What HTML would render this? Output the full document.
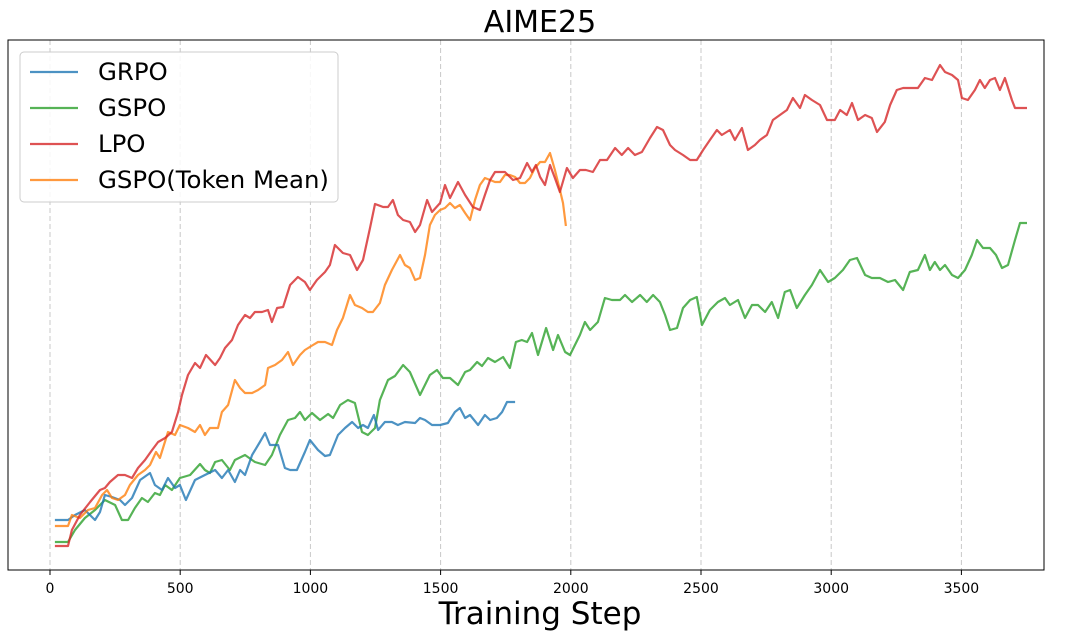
<!DOCTYPE html>
<html><head><meta charset="utf-8"><style>
body{margin:0;background:#fff;}
svg{display:block;font-family:"DejaVu Sans","Liberation Sans",sans-serif;}
</style></head><body>
<svg id="chart" width="1080" height="636" viewBox="0 0 1080 636" xmlns="http://www.w3.org/2000/svg">
<rect width="1080" height="636" fill="#fff"/>
<text x="540" y="32" font-size="30" text-anchor="middle">AIME25</text>
<g id="grid"></g>
<g id="series"></g>
<rect x="8" y="40" width="1036" height="530" fill="none" stroke="#000" stroke-width="1"/>
<g id="ticks"></g>
<text x="540" y="624" font-size="31" text-anchor="middle">Training Step</text>
<g id="legend">
<rect x="20" y="52" width="318" height="150" rx="4" fill="#fff" fill-opacity="0.85" stroke="#ccc"/>
</g>
</svg>
<script>
const xTicks=[0,500,1000,1500,2000,2500,3000,3500];
const names=["GRPO","GSPO","LPO","GSPO(Token Mean)"];
const colors=["#1f77b4","#2ca02c","#d62728","#ff7f0e"];
const grpoSteps=[19,69,96,134,173,192,211,238,269,288,315,346,384,403,430,453,480,499,522,557,595,634,660,684,710,730,749,776,806,826,845,876,902,922,948,979,998,1029,1056,1075,1106,1133,1160,1183,1202,1221,1244,1260,1286,1313,1336,1363,1402,1421,1440,1467,1498,1528,1555,1574,1594,1613,1644,1670,1690,1716,1736,1755,1786];
const grpoVals=[5.0,5.0,5.5,6.0,5.0,5.8,7.5,7.3,7.0,6.5,7.2,9.0,9.7,8.5,8.0,9.2,8.2,8.5,7.0,9.0,9.5,10.0,9.2,10.0,8.8,10.0,9.5,11.5,12.8,13.7,12.5,12.5,10.2,10.0,10.0,11.8,13.0,12.0,11.4,11.5,13.5,14.2,14.8,14.2,14.5,14.2,15.5,14.0,14.8,14.8,14.5,14.8,14.7,15.2,15.0,14.5,14.5,14.7,15.8,16.2,15.2,15.5,14.5,15.5,15.0,15.2,15.8,16.8,16.8];
const gspoSteps=[19,69,96,134,173,211,250,276,300,326,353,376,403,422,442,468,499,538,576,595,614,634,660,691,710,749,787,826,852,883,914,941,960,979,1006,1037,1068,1087,1114,1144,1171,1198,1221,1248,1267,1298,1325,1356,1382,1421,1459,1486,1509,1536,1567,1594,1613,1640,1659,1682,1709,1740,1766,1789,1812,1832,1851,1874,1905,1932,1951,1978,1997,2035,2054,2074,2104,2131,2158,2189,2208,2235,2266,2292,2316,2342,2362,2381,2408,2431,2458,2484,2504,2534,2565,2592,2611,2642,2669,2696,2719,2746,2772,2796,2822,2842,2868,2899,2926,2957,2988,3014,3045,3072,3099,3130,3156,3187,3218,3245,3276,3302,3333,3360,3379,3398,3418,3437,3464,3487,3514,3540,3560,3583,3610,3633,3656,3679,3706,3725,3752];
const gspoVals=[2.8,2.8,4.0,5.2,6.0,7.0,6.5,5.0,5.0,6.2,7.2,6.8,7.7,7.5,8.5,8.0,9.2,9.5,10.6,10.0,9.7,10.8,11.0,10.0,11.0,11.5,10.8,10.5,11.5,13.5,15.0,15.2,15.8,15.0,15.7,15.0,15.6,15.2,16.5,17.0,16.7,13.8,13.5,14.2,17.0,19.0,19.4,20.5,19.8,17.5,19.5,20.0,19.2,19.2,18.5,19.8,20.0,20.8,20.4,21.2,20.8,21.3,20.2,22.8,23.0,22.8,23.7,21.5,24.2,22.0,23.5,21.8,21.5,23.5,24.8,24.0,24.8,27.2,27.0,27.0,27.5,26.8,27.5,26.8,27.5,26.8,25.5,24.0,24.2,26.2,27.0,27.3,24.5,26.0,26.8,27.2,26.5,27.0,25.2,26.5,26.5,25.8,26.8,25.2,27.8,28.0,26.2,27.5,28.5,30.0,28.8,29.2,30.0,31.0,31.2,29.5,29.2,29.2,28.8,29.0,28.0,29.8,30.0,31.5,30.0,30.8,30.0,30.5,29.5,29.2,30.0,31.5,33.0,32.2,32.2,31.5,30.2,30.5,33.0,34.7,34.7];
const lpoSteps=[19,69,84,115,154,192,211,230,261,288,315,338,365,392,415,442,468,492,507,530,557,576,599,634,653,672,699,722,749,768,787,814,837,852,872,895,922,952,979,998,1025,1056,1075,1094,1125,1152,1179,1202,1229,1248,1279,1298,1317,1336,1356,1382,1402,1421,1448,1467,1498,1517,1536,1567,1594,1624,1651,1670,1690,1709,1747,1778,1805,1832,1851,1866,1882,1901,1920,1939,1958,1985,2008,2035,2058,2085,2112,2139,2170,2196,2220,2246,2273,2304,2331,2354,2381,2400,2431,2458,2484,2508,2534,2561,2580,2611,2630,2657,2680,2707,2726,2753,2776,2803,2830,2853,2880,2899,2926,2957,2984,3014,3034,3060,3080,3103,3130,3156,3176,3206,3226,3252,3276,3302,3333,3360,3387,3418,3437,3464,3487,3502,3525,3552,3571,3590,3610,3629,3648,3667,3694,3706,3752];
const lpoVals=[2.4,2.4,4.0,5.5,6.8,8.0,8.2,8.8,9.5,9.5,9.2,10.2,11.0,12.0,12.8,13.2,13.8,15.8,17.5,19.5,20.7,20.2,21.5,20.5,21.2,22.2,23.0,24.5,25.5,25.2,25.8,25.8,26.0,24.8,26.2,26.3,28.5,29.3,28.8,28.0,29.0,29.8,30.5,32.5,31.7,31.5,30.0,31.0,34.2,36.6,36.3,36.3,37.0,35.5,35.0,34.8,33.8,34.5,37.0,35.8,36.7,38.5,37.2,38.8,37.5,36.3,36.0,37.5,39.0,39.8,39.8,39.0,39.2,40.7,39.8,40.5,39.3,38.5,40.5,39.2,37.8,40.2,39.2,40.0,40.0,39.8,41.0,41.0,42.2,41.5,42.2,41.5,41.8,43.2,44.3,44.0,42.5,42.0,41.5,41.0,41.0,42.0,43.0,44.0,43.5,44.0,43.0,44.2,42.0,42.5,43.0,43.5,45.0,45.5,46.0,47.2,46.2,47.5,47.0,46.5,45.0,45.0,46.0,45.5,46.7,45.0,45.5,45.2,43.8,44.8,46.5,48.0,48.2,48.2,48.2,49.2,49.0,50.5,49.8,49.5,49.0,47.2,47.0,48.0,49.0,48.2,49.0,49.2,48.0,49.2,47.0,46.2,46.2];
const tmSteps=[19,69,84,115,146,173,200,219,238,261,288,307,338,365,384,407,422,453,480,499,530,557,576,595,614,645,660,684,710,730,749,776,799,826,837,864,891,914,933,960,979,1010,1029,1056,1083,1102,1125,1152,1171,1198,1221,1240,1267,1286,1313,1344,1363,1382,1402,1421,1440,1459,1478,1498,1517,1536,1555,1574,1594,1613,1632,1651,1670,1690,1709,1728,1747,1766,1786,1805,1824,1843,1862,1882,1901,1920,1939,1958,1970,1981];
const tmVals=[4.4,4.4,5.5,5.2,6.0,6.2,7.5,8.0,7.2,7.0,7.5,8.5,9.5,10.0,10.5,11.8,11.2,13.8,13.5,14.5,14.2,13.8,14.5,13.5,14.2,14.2,15.8,16.5,19.0,18.2,17.7,17.7,18.0,18.5,20.2,20.5,21.0,21.8,20.5,21.5,22.0,22.5,22.8,22.8,22.5,24.0,25.2,27.5,26.5,26.2,25.8,25.8,26.7,28.5,30.0,31.5,30.5,30.2,29.0,29.2,31.5,34.5,35.5,36.0,36.2,36.7,36.2,36.5,35.7,35.0,37.0,38.5,39.2,39.0,38.8,38.8,39.5,39.5,39.3,38.7,38.7,39.2,40.2,40.8,40.8,41.7,40.0,38.0,36.7,34.4];

const NS="http://www.w3.org/2000/svg";
function xs(s){return 50+s*130.2/500;}
function ys(v){return 570-v*10;}
const grid=document.getElementById('grid'),ticks=document.getElementById('ticks'),ser=document.getElementById('series'),leg=document.getElementById('legend');
xTicks.forEach(t=>{
  const l=document.createElementNS(NS,'line');
  
  
  l.setAttribute('x1',xs(t));l.setAttribute('x2',xs(t));l.setAttribute('y1',40);l.setAttribute('y2',570);
  l.setAttribute('stroke','#c8c8c8');l.setAttribute('stroke-dasharray','5,3');
  grid.appendChild(l);
  const tk=document.createElementNS(NS,'line');
  
  
  tk.setAttribute('x1',xs(t));tk.setAttribute('x2',xs(t));tk.setAttribute('y1',570);tk.setAttribute('y2',575);tk.setAttribute('stroke','#000');
  ticks.appendChild(tk);
  const tx=document.createElementNS(NS,'text');
  
  
  tx.setAttribute('x',xs(t));tx.setAttribute('y',593);tx.setAttribute('font-size','14');tx.setAttribute('text-anchor','middle');
  tx.textContent=t;ticks.appendChild(tx);
});
const data=[[grpoSteps,grpoVals],[gspoSteps,gspoVals],[lpoSteps,lpoVals],[tmSteps,tmVals]];
const order=[1,0,3,2];
order.forEach(i=>{
  const [s,v]=data[i];const n=Math.min(s.length,v.length);
  let d='';for(let k=0;k<n;k++)d+=(k?'L':'M')+xs(s[k]).toFixed(1)+','+ys(v[k]).toFixed(1);
  const p=document.createElementNS(NS,'path');
  
  
  p.setAttribute('d',d);p.setAttribute('fill','none');p.setAttribute('stroke',colors[i]);p.setAttribute('stroke-opacity','0.8');p.setAttribute('stroke-width','2.2');p.setAttribute('stroke-linejoin','round');
  ser.appendChild(p);
});
names.forEach((nm,i)=>{
  const y=72+i*36;
  const g=document.createElementNS(NS,'g');
  
  
  const l=document.createElementNS(NS,'line');
  l.setAttribute('x1',30);l.setAttribute('x2',78);l.setAttribute('y1',y);l.setAttribute('y2',y);l.setAttribute('stroke',colors[i]);l.setAttribute('stroke-opacity','0.8');l.setAttribute('stroke-width','2.2');
  const t=document.createElementNS(NS,'text');
  t.setAttribute('x',98);t.setAttribute('y',y+8);t.setAttribute('font-size','24.4');t.textContent=nm;
  g.appendChild(l);g.appendChild(t);leg.appendChild(g);
});
</script>
</body></html>
